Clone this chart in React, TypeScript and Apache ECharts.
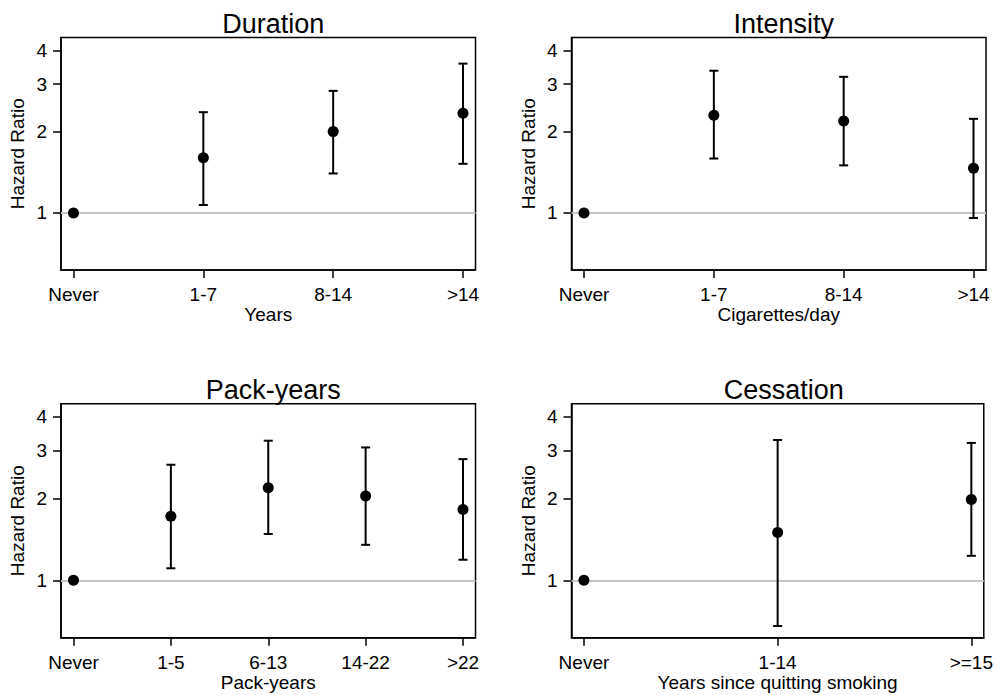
import React, { useEffect, useRef } from "react";
import * as echarts from "echarts";

// ---------- data ----------
const durationCats = ["Never", "1-7", "8-14", ">14"];
const durationHR = [1, 1.6, 2.0, 2.34];
const durationLo = [null, 1.07, 1.4, 1.52];
const durationHi = [null, 2.36, 2.83, 3.57];

const intensityCats = ["Never", "1-7", "8-14", ">14"];
const intensityHR = [1, 2.3, 2.19, 1.465];
const intensityLo = [null, 1.59, 1.5, 0.958];
const intensityHi = [null, 3.36, 3.19, 2.23];

const packCats = ["Never", "1-5", "6-13", "14-22", ">22"];
const packHR = [1, 1.72, 2.19, 2.04, 1.82];
const packLo = [null, 1.107, 1.48, 1.35, 1.19];
const packHi = [null, 2.66, 3.26, 3.08, 2.79];

const cessCats = ["Never", "1-14", ">=15"];
const cessHR = [1, 1.5, 1.98];
const cessLo = [null, 0.679, 1.23];
const cessHi = [null, 3.28, 3.2];

const yTicks = [1, 2, 3, 4];

const panels = [
  { title: "Duration", xName: "Years", cats: durationCats, hr: durationHR, lo: durationLo, hi: durationHi },
  { title: "Intensity", xName: "Cigarettes/day", cats: intensityCats, hr: intensityHR, lo: intensityLo, hi: intensityHi },
  { title: "Pack-years", xName: "Pack-years", cats: packCats, hr: packHR, lo: packLo, hi: packHi },
  { title: "Cessation", xName: "Years since quitting smoking", cats: cessCats, hr: cessHR, lo: cessLo, hi: cessHi },
];

// ---------- layout ----------
const FONT = "'Liberation Sans', Arial, Helvetica, sans-serif";
const W = 996;
const H = 695;
const colLeft = [61, 571.5];
const plotW = 414.5;
const rowTop = [37.5, 403.7];
const rowH = [232.5, 234];
const titleTop = [5, 371.5];
const Y_MIN = 0.615;
const Y_MAX = 4.46;
const EDGE_PAD = 12.5;

export default function App() {
  const ref = useRef<HTMLDivElement | null>(null);

  useEffect(() => {
    document.body.style.margin = "0";
    document.body.style.overflow = "hidden";
    if (!ref.current) return;
    const chart = echarts.init(ref.current, null, { renderer: "svg" });

    const grids: any[] = [];
    const xAxes: any[] = [];
    const yAxes: any[] = [];
    const series: any[] = [];
    const titles: any[] = [];

    panels.forEach((p, k) => {
      const col = k % 2;
      const row = Math.floor(k / 2);
      const left = colLeft[col];
      const top = rowTop[row];
      const h = rowH[row];
      const n = p.cats.length;
      const pad = ((n - 1) * EDGE_PAD) / (plotW - 2 * EDGE_PAD);
      const idx = p.cats.map((_, i) => i);

      grids.push({
        left,
        top,
        width: plotW,
        height: h,
        show: true,
        borderColor: "#000",
        borderWidth: 1.5,
        backgroundColor: "transparent",
        containLabel: false,
      });

      titles.push({
        text: p.title,
        left: left + plotW / 2,
        top: titleTop[row],
        textAlign: "center",
        textStyle: { fontFamily: FONT, fontSize: 27, fontWeight: "normal", color: "#000" },
      });

      xAxes.push({
        type: "value",
        gridIndex: k,
        min: -pad,
        max: n - 1 + pad,
        name: p.xName,
        nameLocation: "middle",
        nameGap: 35,
        nameMoveOverlap: false,
        nameTextStyle: { fontFamily: FONT, fontSize: 19, color: "#000" },
        axisLine: { show: true, onZero: false, lineStyle: { color: "#000", width: 1.5 } },
        axisTick: { show: true, length: 8, customValues: idx, lineStyle: { color: "#000", width: 1.5 } },
        axisLabel: {
          show: true,
          margin: 15,
          customValues: idx,
          fontFamily: FONT,
          fontSize: 19,
          color: "#000",
          formatter: (v: number) => p.cats[Math.round(v)] ?? "",
        },
        splitLine: { show: false },
      });

      yAxes.push({
        type: "log",
        logBase: 10,
        gridIndex: k,
        min: Y_MIN,
        max: Y_MAX,
        name: "Hazard Ratio",
        nameLocation: "middle",
        nameGap: 34,
        nameMoveOverlap: false,
        nameTextStyle: { fontFamily: FONT, fontSize: 19, color: "#000" },
        axisLine: { show: true, onZero: false, lineStyle: { color: "#000", width: 1.5 } },
        axisTick: { show: true, length: 8, customValues: yTicks, lineStyle: { color: "#000", width: 1.5 } },
        axisLabel: {
          show: true,
          margin: 14,
          customValues: yTicks,
          fontFamily: FONT,
          fontSize: 19,
          color: "#000",
          formatter: (v: number) => String(Math.round(v)),
        },
        splitLine: { show: false },
        minorTick: { show: false },
        minorSplitLine: { show: false },
      });

      const ciData: any[] = [];
      p.cats.forEach((_, i) => {
        if (p.lo[i] != null && p.hi[i] != null) ciData.push([i, p.lo[i], p.hi[i]]);
      });

      series.push({
        type: "custom",
        xAxisIndex: k,
        yAxisIndex: k,
        z: 3,
        silent: true,
        encode: { x: 0, y: [1, 2] },
        data: ciData,
        renderItem: (_params: any, api: any) => {
          const x = api.value(0);
          const a = api.coord([x, api.value(1)]);
          const b = api.coord([x, api.value(2)]);
          const hw = 4.5;
          const st = { stroke: "#000", lineWidth: 2 };
          return {
            type: "group",
            children: [
              { type: "line", shape: { x1: a[0], y1: a[1], x2: b[0], y2: b[1] }, style: st },
              { type: "line", shape: { x1: a[0] - hw, y1: a[1], x2: a[0] + hw, y2: a[1] }, style: st },
              { type: "line", shape: { x1: b[0] - hw, y1: b[1], x2: b[0] + hw, y2: b[1] }, style: st },
            ],
          };
        },
        markLine: {
          silent: true,
          z: 1,
          symbol: ["none", "none"],
          label: { show: false },
          lineStyle: { color: "#c6c6c6", width: 2, type: "solid", opacity: 1 },
          data: [{ yAxis: 1 }],
        },
      });

      series.push({
        type: "scatter",
        xAxisIndex: k,
        yAxisIndex: k,
        z: 10,
        symbol: "circle",
        symbolSize: 11,
        itemStyle: { color: "#000", opacity: 1 },
        emphasis: { disabled: true },
        data: p.hr.map((v, i) => [i, v]),
      });
    });

    chart.setOption({
      animation: false,
      backgroundColor: "#fff",
      textStyle: { fontFamily: FONT },
      title: titles,
      grid: grids,
      xAxis: xAxes,
      yAxis: yAxes,
      series,
    });

    return () => chart.dispose();
  }, []);

  return (
    <div
      ref={ref}
      style={{ position: "absolute", left: 0, top: 0, width: W, height: H, background: "#fff" }}
    />
  );
}
